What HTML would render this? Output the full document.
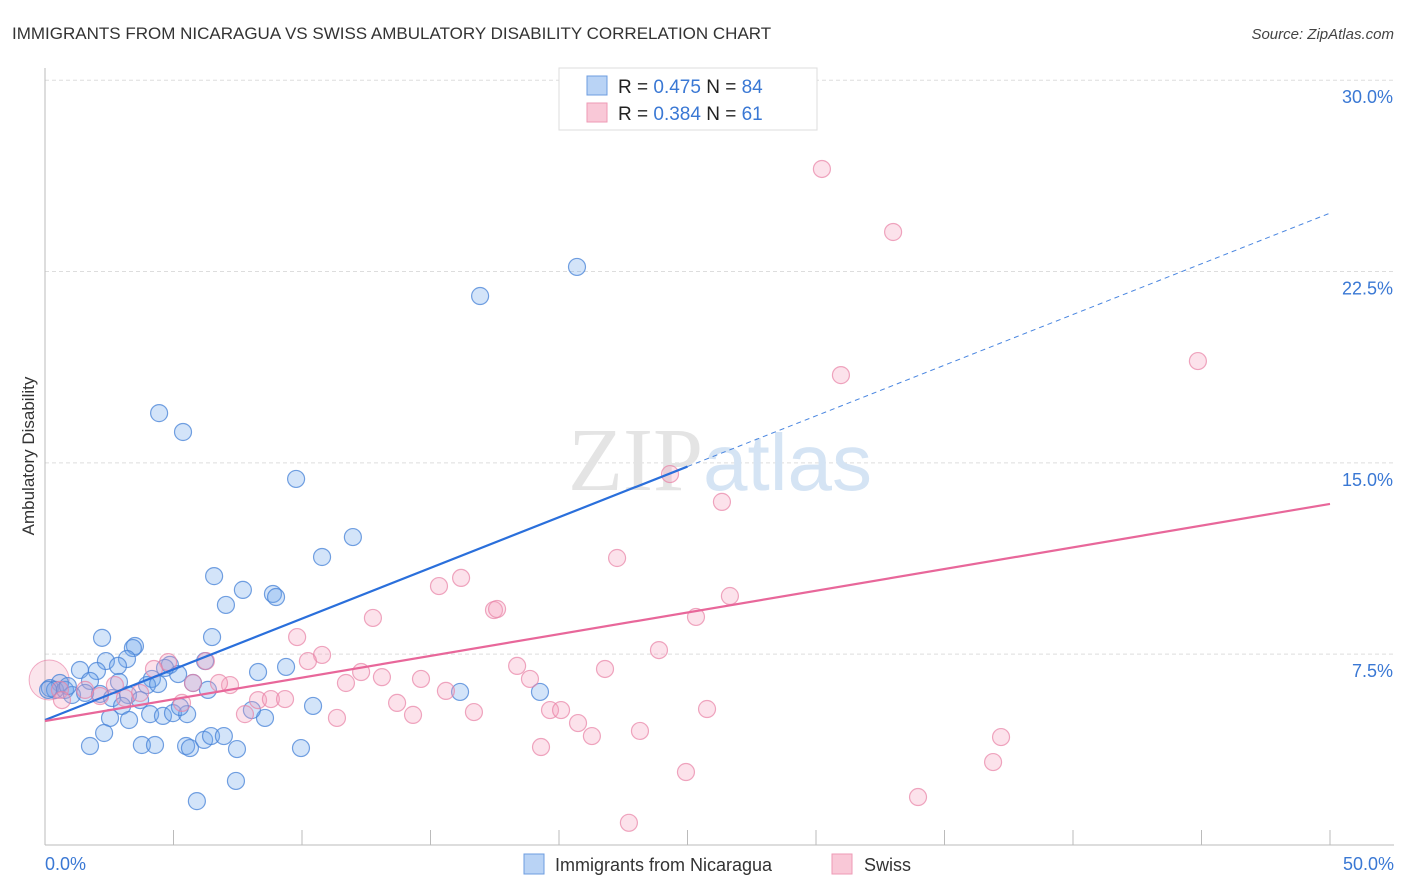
<!DOCTYPE html>
<html><head><meta charset="utf-8"><style>
body{margin:0;background:#fff;font-family:"Liberation Sans",sans-serif;}
#wrap{position:relative;width:1406px;height:892px;overflow:hidden;}
</style></head><body>
<div id="wrap">
<svg id="chart" width="1406" height="892" xmlns="http://www.w3.org/2000/svg">
<text x="12" y="39" font-size="17" fill="#333">IMMIGRANTS FROM NICARAGUA VS SWISS AMBULATORY DISABILITY CORRELATION CHART</text>
<text x="1394" y="39" font-size="15" fill="#444" text-anchor="end" font-style="italic">Source: ZipAtlas.com</text>
<g id="grid"></g>
<text x="720" y="490" font-size="90" fill="#e4e4e4" text-anchor="middle" font-family="Liberation Serif,serif">ZIP<tspan fill="#d5e4f4" font-family="Liberation Sans,sans-serif" font-size="80">atlas</tspan></text>
<line x1="45" y1="68" x2="45" y2="845" stroke="#bbb"/>
<line x1="45" y1="845" x2="1394" y2="845" stroke="#bbb"/>
<g id="ticks"></g>
<g id="pts"></g>
<g id="lines"></g>
<text transform="translate(34,456) rotate(-90)" font-size="17" fill="#333" text-anchor="middle">Ambulatory Disability</text>
<text x="45" y="870" font-size="18" fill="#3a78d4">0.0%</text>
<text x="1394" y="870" font-size="18" fill="#3a78d4" text-anchor="end">50.0%</text>
<g>
<rect x="559" y="68" width="258" height="62" fill="#fff" stroke="#ddd"/>
<rect x="587" y="76" width="20" height="19" fill="#b9d3f5" stroke="#6d9de0"/>
<rect x="587" y="103" width="20" height="19" fill="#f9c8d7" stroke="#ee9ab5"/>
<text x="618" y="93" font-size="19" fill="#222">R = <tspan fill="#3a78d4">0.475</tspan>   N = <tspan fill="#3a78d4">84</tspan></text>
<text x="618" y="120" font-size="19" fill="#222">R = <tspan fill="#3a78d4">0.384</tspan>   N =  <tspan fill="#3a78d4">61</tspan></text>
</g>
<g>
<rect x="524" y="854" width="20" height="20" fill="#b9d3f5" stroke="#6d9de0"/>
<text x="555" y="871" font-size="18" fill="#333">Immigrants from Nicaragua</text>
<rect x="832" y="854" width="20" height="20" fill="#f9c8d7" stroke="#ee9ab5"/>
<text x="864" y="871" font-size="18" fill="#333">Swiss</text>
</g>
</svg>
</div>
<script>
const yTicks=[7.5,15,22.5,30];
const yTickLabels=["7.5%","15.0%","22.5%","30.0%"];
const xTicks=[0,5,10,15,20,25,30,35,40,45,50];
const blueX=[4.44,5.37,16.93,20.70,9.77,11.98,10.78,6.58,7.70,8.87,8.99,7.04,2.22,6.50,3.50,3.42,3.19,2.37,4.86,6.23,8.29,9.38,2.02,1.36,2.84,4.16,5.18,2.88,1.75,0.58,0.19,0.39,0.78,1.05,1.56,2.14,2.61,3.23,3.97,4.40,5.76,6.34,3.00,3.70,2.53,3.27,4.09,4.59,4.98,5.53,5.25,8.56,10.43,16.15,19.26,8.05,2.30,1.75,3.77,4.28,5.49,5.64,6.19,6.46,6.96,7.47,9.96,5.91,7.43,4.67,0.12,0.89];
const blueY=[16.95,16.21,21.54,22.68,14.37,12.09,11.31,10.56,10.02,9.86,9.74,9.43,8.14,8.17,7.82,7.74,7.31,7.23,7.08,7.23,6.80,7.00,6.84,6.88,7.04,6.53,6.72,6.41,6.45,6.37,6.17,6.10,6.10,5.90,5.98,5.94,5.78,5.90,6.29,6.33,6.37,6.10,5.47,5.70,5.00,4.92,5.15,5.08,5.19,5.15,5.43,5.00,5.47,6.02,6.02,5.31,4.41,3.90,3.94,3.94,3.90,3.82,4.14,4.29,4.29,3.78,3.82,1.74,2.53,6.96,6.10,6.25];
const pinkX=[30.23,33.00,44.86,30.97,24.32,26.34,22.26,16.19,15.33,17.47,17.59,26.65,12.76,25.33,9.81,10.78,10.23,6.26,4.79,4.24,12.30,13.11,14.63,18.37,18.87,21.79,23.89,11.71,7.20,6.77,5.76,8.29,8.79,9.34,15.60,13.70,14.32,16.69,11.36,7.78,19.65,20.08,20.74,21.28,23.15,25.76,19.30,24.94,37.20,36.89,33.97,22.72,2.72,3.70,0.58,3.11,5.33,0.66,2.14,1.56];
const pinkY=[26.52,24.05,18.99,18.44,14.56,13.47,11.27,10.49,10.17,9.23,9.27,9.78,8.92,8.96,8.17,7.47,7.23,7.23,7.19,6.92,6.80,6.60,6.53,7.04,6.53,6.92,7.66,6.37,6.29,6.37,6.37,5.70,5.74,5.74,6.06,5.59,5.12,5.23,5.00,5.15,5.31,5.31,4.80,4.29,4.49,5.35,3.86,2.88,4.25,3.27,1.90,0.89,6.29,5.98,6.10,5.78,5.59,5.70,5.86,6.10];
const blueLine=[4.92,24.79];
const pinkLine=[4.88,13.39];
const NS="http://www.w3.org/2000/svg";
function sx(v){return 45+v*25.7;}
function sy(v){return 845.5-v*25.51;}
function mk(t,a,p){const e=document.createElementNS(NS,t);for(const k in a)e.setAttribute(k,a[k]);p.appendChild(e);return e;}
const grid=document.getElementById('grid');
yTicks.forEach((t,i)=>{
  const l=mk('line',{x1:45,x2:1394,y1:sy(t),y2:sy(t),stroke:'#ddd','stroke-dasharray':'4,3'},grid);
  
  
  const tx=mk('text',{x:1393,y:sy(t)+23,'font-size':18,fill:'#3a78d4','text-anchor':'end'},grid);
  tx.textContent=yTickLabels[i];
  
  
});
const ticks=document.getElementById('ticks');
xTicks.forEach(t=>{
  const l=mk('line',{x1:sx(t),x2:sx(t),y1:830,y2:845,stroke:'#bbb'},ticks);
  
  
});
const pts=document.getElementById('pts');
const big=mk('circle',{cx:sx(0.16),cy:sy(6.49),r:20,fill:'rgba(240,150,180,0.25)',stroke:'rgba(232,120,160,0.6)'},pts);


blueX.forEach((x,i)=>{
  const c=mk('circle',{cx:sx(x),cy:sy(blueY[i]),r:8.5,fill:'rgba(110,165,235,0.3)',stroke:'rgba(70,130,215,0.75)','stroke-width':1.2},pts);
  
  
});
pinkX.forEach((x,i)=>{
  const c=mk('circle',{cx:sx(x),cy:sy(pinkY[i]),r:8.5,fill:'rgba(245,160,190,0.3)',stroke:'rgba(232,130,165,0.7)','stroke-width':1.2},pts);
  
  
});
const lines=document.getElementById('lines');
function bl(x){return blueLine[0]+(blueLine[1]-blueLine[0])*x/50;}
let a=mk('line',{x1:sx(0),y1:sy(bl(0)),x2:sx(25),y2:sy(bl(25)),stroke:'#2a6fdb','stroke-width':2.2},lines);


let b=mk('line',{x1:sx(25),y1:sy(bl(25)),x2:sx(50),y2:sy(bl(50)),stroke:'#4a86e0','stroke-width':1,'stroke-dasharray':'5,4'},lines);


let c=mk('line',{x1:sx(0),y1:sy(pinkLine[0]),x2:sx(50),y2:sy(pinkLine[1]),stroke:'#e8679a','stroke-width':2.2},lines);


</script>
</body></html>
